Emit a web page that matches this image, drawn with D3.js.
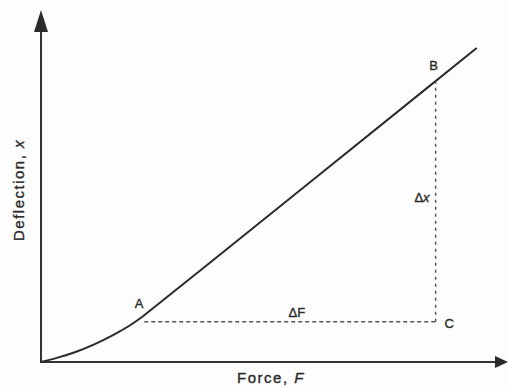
<!DOCTYPE html>
<html lang="en">

<head>
  <meta charset="utf-8">
  <title>Deflection vs Force</title>
  <script type="text/javascript" src="https://cdn.jsdelivr.net/npm/d3@7/dist/d3.min.js"></script>
  <style>
    body { margin: 0; background: #fdfdfd; }
    text { font-family: "Liberation Sans", Arial, sans-serif; fill: #2a2a2a; stroke: #2a2a2a; stroke-width: 0.35px; }
  </style>
</head>

<body>

  <script type="text/javascript">

    // Curve: force and deflection (arbitrary units 0-100)
    var force      = [0, 2.8, 7.1, 11.4, 15.7, 18.9, 21.7, 25.3, 93.3];
    var deflection = [0, 0.9, 2.6, 4.9, 7.8, 10.2, 12.8, 16.6, 89.2];

    // Marked points A, B, C
    var pointNames = ["A", "B", "C"];
    var pointForce = [22.1, 84.5, 84.5];
    var pointDefl  = [11.4, 79.7, 11.4];

    var w = 509;
    var h = 387;

    var dataset = force.map(function (f, i) {
      return { f: f, x: deflection[i] };
    });

    var pts = {};
    pointNames.forEach(function (n, i) {
      pts[n] = { f: pointForce[i], x: pointDefl[i] };
    });

    // Create scales
    var xScale = d3.scaleLinear()
      .domain([0, 100])
      .range([41, 508]);

    var yScale = d3.scaleLinear()
      .domain([0, 100])
      .range([362, 10]);

    //Create SVG element
    var svg = d3.select("body")
      .append("svg")
      .attr("width", w)
      .attr("height", h);

    // Axes with arrow heads
    svg.append("line")
      .attr("x1", xScale(0)).attr("y1", yScale(0))
      .attr("x2", xScale(0)).attr("y2", yScale(100) + 18)
      .attr("stroke", "#333").attr("stroke-width", 2);

    svg.append("line")
      .attr("x1", xScale(0) - 1).attr("y1", yScale(0))
      .attr("x2", xScale(100) - 10).attr("y2", yScale(0))
      .attr("stroke", "#333").attr("stroke-width", 2);

    svg.append("path")
      .attr("d", "M" + xScale(0) + "," + yScale(100) +
        "L" + (xScale(0) - 7) + "," + (yScale(100) + 22) +
        "L" + (xScale(0) + 7) + "," + (yScale(100) + 22) + "Z")
      .attr("fill", "#2a2a2a");

    svg.append("path")
      .attr("d", "M" + xScale(100) + "," + yScale(0) +
        "L" + (xScale(100) - 13) + "," + (yScale(0) - 6) +
        "L" + (xScale(100) - 13) + "," + (yScale(0) + 6) + "Z")
      .attr("fill", "#2a2a2a");

    // Curve
    var line = d3.line()
      .x(function (d) { return xScale(d.f); })
      .y(function (d) { return yScale(d.x); })
      .curve(d3.curveBasis);

    svg.append("path")
      .datum(dataset)
      .attr("d", line)
      .attr("fill", "none")
      .attr("stroke", "#2a2a2a")
      .attr("stroke-width", 2);

    // Dashed construction lines A-C and C-B
    svg.append("line")
      .attr("x1", xScale(pts.A.f)).attr("y1", yScale(pts.A.x))
      .attr("x2", xScale(pts.C.f)).attr("y2", yScale(pts.C.x))
      .attr("stroke", "#555").attr("stroke-width", 1.5)
      .attr("stroke-dasharray", "4,3");

    svg.append("line")
      .attr("x1", xScale(pts.C.f)).attr("y1", yScale(pts.C.x))
      .attr("x2", xScale(pts.B.f)).attr("y2", yScale(pts.B.x))
      .attr("stroke", "#555").attr("stroke-width", 1.5)
      .attr("stroke-dasharray", "3,4");

    // Point labels
    svg.append("text")
      .attr("x", xScale(pts.A.f) - 5).attr("y", yScale(pts.A.x) - 14)
      .attr("text-anchor", "middle").attr("font-size", "13px")
      .text("A");

    svg.append("text")
      .attr("x", xScale(pts.B.f) - 2).attr("y", yScale(pts.B.x) - 11)
      .attr("text-anchor", "middle").attr("font-size", "13px")
      .text("B");

    svg.append("text")
      .attr("x", xScale(pts.C.f) + 9).attr("y", yScale(pts.C.x) + 6)
      .attr("text-anchor", "start").attr("font-size", "13px")
      .text("C");

    // Delta labels
    svg.append("text")
      .attr("x", (xScale(pts.A.f) + xScale(pts.C.f)) / 2 + 7)
      .attr("y", yScale(pts.A.x) - 5)
      .attr("text-anchor", "middle").attr("font-size", "13px")
      .text("\u0394F");

    svg.append("text")
      .attr("x", xScale(pts.C.f) - 6)
      .attr("y", yScale(pts.C.x) - 120)
      .attr("text-anchor", "end").attr("font-size", "13px")
      .html("\u0394<tspan font-style='italic'>x</tspan>");

    // X axis label
    svg.append("text")
      .attr("x", 271).attr("y", 383)
      .attr("text-anchor", "middle").attr("font-size", "15px")
      .attr("letter-spacing", "1.5px")
      .html("Force, <tspan font-style='italic'>F</tspan>");

    // Y axis label
    svg.append("text")
      .attr("transform", "rotate(-90)")
      .attr("x", -190).attr("y", 24)
      .attr("text-anchor", "middle").attr("font-size", "15px")
      .attr("letter-spacing", "1.5px")
      .html("Deflection, <tspan font-style='italic'>x</tspan>");

  </script>

</body>

</html>
